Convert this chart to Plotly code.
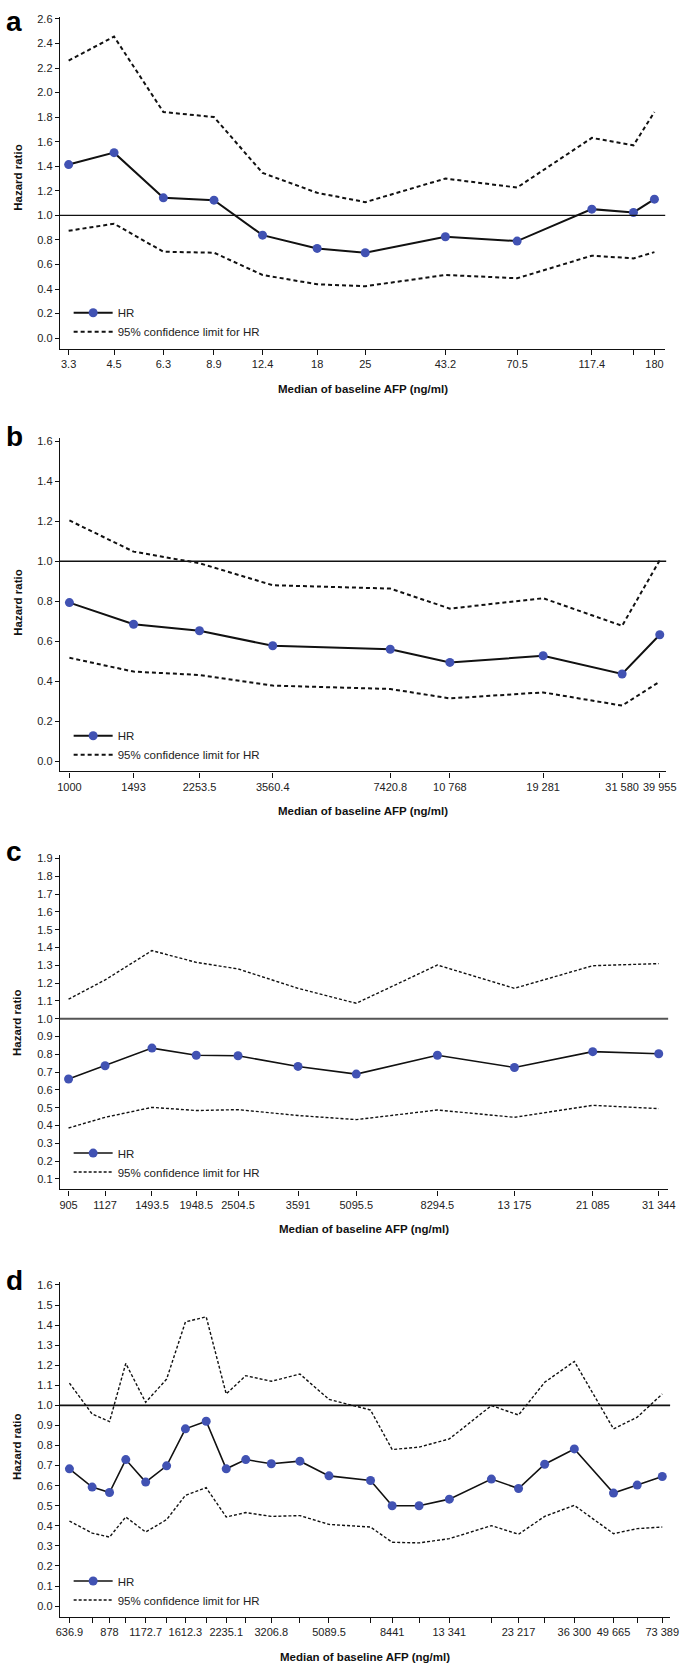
import plotly.graph_objects as go

# ---------------- data ----------------
# Panel a
a_x = [3.3, 4.5, 6.3, 8.9, 12.4, 18, 25, 43.2, 70.5, 117.4, 156, 180]
a_ticktext = ["3.3", "4.5", "6.3", "8.9", "12.4", "18", "25", "43.2", "70.5", "117.4", "", "180"]
a_hr = [1.414, 1.511, 1.143, 1.124, 0.839, 0.731, 0.696, 0.826, 0.791, 1.051, 1.024, 1.132]
a_up = [2.261, 2.456, 1.842, 1.801, 1.346, 1.184, 1.108, 1.300, 1.227, 1.631, 1.571, 1.842]
a_lo = [0.875, 0.932, 0.704, 0.696, 0.515, 0.439, 0.423, 0.515, 0.488, 0.672, 0.650, 0.701]

# Panel b
b_x = [1000, 1493, 2253.5, 3560.4, 7420.8, 10768, 19281, 31580, 39955]
b_ticktext = ["1000", "1493", "2253.5", "3560.4", "7420.8", "10 768", "19 281", "31 580", "39 955"]
b_hr = [0.793, 0.685, 0.652, 0.577, 0.560, 0.494, 0.527, 0.436, 0.632]
b_up = [1.204, 1.048, 0.990, 0.880, 0.863, 0.763, 0.815, 0.677, 1.005]
b_lo = [0.517, 0.448, 0.431, 0.378, 0.361, 0.314, 0.344, 0.278, 0.398]

# Panel c
c_x = [905, 1127, 1493.5, 1948.5, 2504.5, 3591, 5095.5, 8294.5, 13175, 21085, 31344]
c_ticktext = ["905", "1127", "1493.5", "1948.5", "2504.5", "3591", "5095.5", "8294.5", "13 175", "21 085", "31 344"]
c_hr = [0.661, 0.736, 0.835, 0.795, 0.792, 0.732, 0.689, 0.795, 0.726, 0.815, 0.803]
c_up = [1.110, 1.218, 1.383, 1.317, 1.280, 1.171, 1.087, 1.302, 1.171, 1.298, 1.310]
c_lo = [0.386, 0.446, 0.502, 0.484, 0.489, 0.456, 0.433, 0.487, 0.446, 0.513, 0.495]

# Panel d
d_x = [636.9, 764, 878, 1000, 1172.7, 1387, 1612.3, 1904, 2235.1, 2614, 3206.8, 4033,
       5089.5, 7097, 8441, 10471, 13341, 18683, 23217, 28622, 36300, 49665, 60054, 73389]
d_ticktext = ["636.9", "", "878", "", "1172.7", "", "1612.3", "", "2235.1", "", "3206.8", "",
              "5089.5", "", "8441", "", "13 341", "", "23 217", "", "36 300", "49 665", "", "73 389"]
d_hr = [0.684, 0.593, 0.566, 0.730, 0.618, 0.699, 0.883, 0.921, 0.684, 0.730, 0.709, 0.722,
        0.649, 0.626, 0.500, 0.500, 0.533, 0.633, 0.586, 0.707, 0.783, 0.563, 0.603, 0.646]
d_up = [1.111, 0.957, 0.919, 1.209, 1.015, 1.131, 1.416, 1.441, 1.057, 1.148, 1.120, 1.156,
        1.030, 0.977, 0.780, 0.792, 0.833, 0.999, 0.952, 1.115, 1.219, 0.883, 0.941, 1.057]
d_lo = [0.424, 0.364, 0.344, 0.444, 0.369, 0.431, 0.552, 0.590, 0.444, 0.466, 0.447, 0.451,
        0.407, 0.394, 0.318, 0.315, 0.336, 0.401, 0.358, 0.447, 0.502, 0.361, 0.386, 0.394]

a_yticks = [round(0.2 * i, 1) for i in range(14)]
b_yticks = [round(0.2 * i, 1) for i in range(9)]
c_yticks = [round(0.1 * i, 1) for i in range(1, 20)]
d_yticks = [round(0.1 * i, 1) for i in range(17)]

letters = ["a", "b", "c", "d"]
x_title = "Median of baseline AFP (ng/ml)"
y_title = "Hazard ratio"
hr_name = "HR"
ci_name = "95% confidence limit for HR"

# ---------------- layout geometry (pixels) ----------------
W, H = 685, 1663
panels = [
    dict(x=a_x, tt=a_ticktext, hr=a_hr, up=a_up, lo=a_lo, yt=a_yticks,
         l=57, r=675, t=13, b=346, xr=[0.4924, 2.2872], yr=[-0.0894, 2.616],
         lw=2.0, dw=2.0, dash="4px,3px", refc="#111", refw=1.4, leg=311, ytc=174.5),
    dict(x=b_x, tt=b_ticktext, hr=b_hr, up=b_up, lo=b_lo, yt=b_yticks,
         l=57, r=676, t=435, b=769.3, xr=[2.974, 4.619], yr=[-0.0514, 1.6165],
         lw=2.0, dw=2.0, dash="4px,3px", refc="#111", refw=1.4, leg=735, ytc=600.5),
    dict(x=c_x, tt=c_ticktext, hr=c_hr, up=c_up, lo=c_lo, yt=c_yticks,
         l=57, r=678, t=853, b=1188.3, xr=[2.9339, 4.5207], yr=[0.0405, 1.9207],
         lw=1.6, dw=1.4, dash="3px,2px", refc="#555", refw=2.2, leg=1153.3, ytc=1021.7),
    dict(x=d_x, tt=d_ticktext, hr=d_hr, up=d_up, lo=d_lo, yt=d_yticks,
         l=57, r=680, t=1281, b=1616.7, xr=[2.7707, 4.8929], yr=[-0.0532, 1.615],
         lw=1.6, dw=1.4, dash="3px,2px", refc="#111", refw=1.6, leg=1582.3, ytc=1446.7),
]
letter_top = [0, 416, 832, 1262]

FONT = "Arial, Liberation Sans, Helvetica, sans-serif"
MARK = "#4152B3"

fig = go.Figure()
layout = dict(width=W, height=H, margin=dict(l=0, r=0, t=0, b=0),
              paper_bgcolor="white", plot_bgcolor="white", showlegend=True,
              font=dict(family=FONT, size=11, color="#222"))
annotations = []
shapes = []

for i, p in enumerate(panels):
    n = "" if i == 0 else str(i + 1)
    xa, ya = "x" + n, "y" + n
    leg = "legend" + n
    fig.add_trace(go.Scatter(x=p["x"], y=p["hr"], mode="lines+markers", name=hr_name,
                             xaxis=xa, yaxis=ya, legend=leg,
                             line=dict(color="#111", width=p["lw"]),
                             marker=dict(color=MARK, size=9)))
    fig.add_trace(go.Scatter(x=p["x"], y=p["up"], mode="lines", name=ci_name,
                             xaxis=xa, yaxis=ya, legend=leg,
                             line=dict(color="#111", width=p["dw"], dash=p["dash"])))
    fig.add_trace(go.Scatter(x=p["x"], y=p["lo"], mode="lines", name=ci_name, showlegend=False,
                             xaxis=xa, yaxis=ya, legend=leg,
                             line=dict(color="#111", width=p["dw"], dash=p["dash"])))
    xd = [p["l"] / W, p["r"] / W]
    yd = [1 - p["b"] / H, 1 - p["t"] / H]
    layout["xaxis" + n] = dict(domain=xd, anchor=ya, type="log", range=p["xr"],
                               tickmode="array", tickvals=p["x"], ticktext=p["tt"],
                               showline=True, linecolor="#111", linewidth=1.2,
                               ticks="outside", ticklen=5, tickwidth=1, tickcolor="#111",
                               tickangle=0, showgrid=False, zeroline=False,
                               ticklabeloverflow="allow",
                               tickfont=dict(size=11, color="#222"))
    layout["yaxis" + n] = dict(domain=yd, anchor=xa, range=p["yr"],
                               tickmode="array", tickvals=p["yt"],
                               ticktext=["%.1f" % v for v in p["yt"]],
                               showline=True, linecolor="#111", linewidth=1.2,
                               ticks="outside", ticklen=4, tickwidth=1, tickcolor="#111",
                               showgrid=False, zeroline=False,
                               ticklabeloverflow="allow",
                               tickfont=dict(size=11, color="#222"))
    shapes.append(dict(type="line", xref=xa + " domain", yref=ya, x0=0, x1=1, y0=1.0, y1=1.0,
                       line=dict(color=p["refc"], width=p["refw"])))
    layout[leg] = dict(x=(p["l"] + 9) / W, xanchor="left", y=1 - (p["leg"] - 16) / H,
                       yanchor="top", bgcolor="rgba(0,0,0,0)", borderwidth=0,
                       font=dict(family=FONT, size=11.5, color="#222"),
                       traceorder="normal", itemwidth=39, tracegroupgap=0)
    # axis titles
    annotations.append(dict(text="<b>%s</b>" % x_title, xref="paper", yref="paper",
                            x=(p["l"] + p["r"]) / 2 / W, y=1 - (p["b"] + 40) / H,
                            xanchor="center", yanchor="middle", showarrow=False,
                            font=dict(family=FONT, size=11.5, color="#111")))
    annotations.append(dict(text="<b>%s</b>" % y_title, xref="paper", yref="paper",
                            x=14 / W, y=1 - p["ytc"] / H, textangle=-90,
                            xanchor="center", yanchor="middle", showarrow=False,
                            font=dict(family=FONT, size=11.5, color="#111")))
    annotations.append(dict(text="<b>%s</b>" % letters[i], xref="paper", yref="paper",
                            x=0, y=1 - letter_top[i] / H,
                            xanchor="left", yanchor="top", showarrow=False,
                            font=dict(family=FONT, size=28, color="#000")))

layout["annotations"] = annotations
layout["shapes"] = shapes
fig.update_layout(**layout)
fig.write_html("out.html", config={"displayModeBar": False},
               post_script="document.body.style.margin='0';")
